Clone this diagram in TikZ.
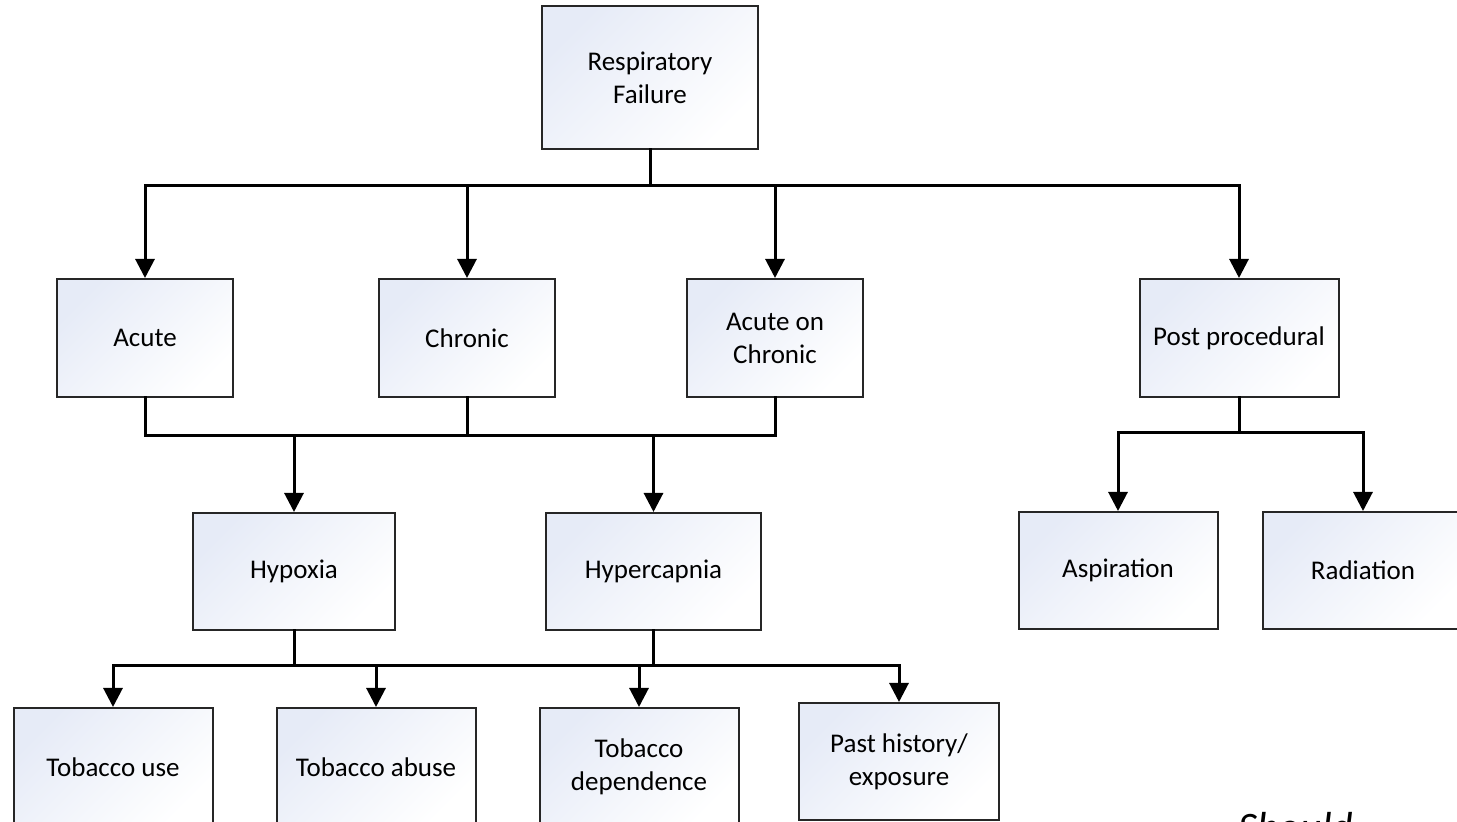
\documentclass[tikz,border=0pt]{standalone}
\usepackage{fontspec}
\setmainfont{Carlito}
\usetikzlibrary{arrows.meta}

\definecolor{boxtint}{RGB}{230,235,247}

\begin{document}
\begin{tikzpicture}[x=0.5pt,y=-0.5pt,
  box/.style={draw=black!85,line width=1pt,top color=boxtint,bottom color=white,
    shading angle=45,inner sep=0pt,align=center,minimum width=99.5pt,minimum height=59pt,
    font=\fontsize{13.5}{16.5}\selectfont},
  smallbox/.style={box,minimum width=88pt},
  rootbox/.style={box,minimum width=108pt,minimum height=71.5pt},
  conn/.style={line width=1.5pt,line cap=rect},
  arr/.style={line width=1.5pt,-{Triangle[length=9.5pt,width=9.5pt]}}]
\useasboundingbox (0,0) rectangle (1457,822);
\clip (0,0) rectangle (1457,822);
\fill[white] (0,0) rectangle (1457,822);

\node[rootbox] (root) at (650,77.5) {Respiratory\\Failure};

\node[smallbox] (acute) at (145,338) {Acute};
\node[smallbox] (chronic) at (467,338) {Chronic};
\node[smallbox] (aoc) at (775,338) {Acute on\\Chronic};
\node[box] (postp) at (1239,338) {Post procedural};

\node[box,minimum width=101pt,minimum height=58.5pt] (hypox) at (294,571.5) {Hypoxia};
\node[box,minimum width=107.5pt,minimum height=58.5pt] (hyperc) at (653.5,571.5) {Hypercapnia};

\node[box] (tobuse) at (113,767) {Tobacco use};
\node[box] (tobabuse) at (376,767) {Tobacco abuse};
\node[box] (tobdep) at (639,767) {Tobacco\\dependence};
\node[box,minimum width=100pt,minimum height=58.5pt] (past) at (899,761.5) {Past history/\\exposure};

\node[box,minimum height=58.5pt] (aspir) at (1118,570.5) {Aspiration};
\node[box,minimum width=100pt,minimum height=58.5pt] (radiat) at (1363,570.5) {Radiation};

\node[anchor=base west,inner sep=0pt,font=\fontsize{21}{25}\selectfont\itshape] (note) at (1238,842) {Should};

\coordinate (busA) at (0,186);
\coordinate (busB) at (0,436);
\coordinate (busC) at (0,666);
\coordinate (busD) at (0,433);

\draw[conn] (root.south) -- (root.south |- busA);
\draw[conn] (acute.north |- busA) -- (postp.north |- busA);
\foreach \n in {acute,chronic,aoc,postp}
  \draw[arr] (\n.north |- busA) -- (\n.north);

\foreach \n in {acute,chronic,aoc}
  \draw[conn] (\n.south) -- (\n.south |- busB);
\draw[conn] (acute.south |- busB) -- (aoc.south |- busB);
\foreach \n in {hypox,hyperc}
  \draw[arr] (\n.north |- busB) -- (\n.north);

\foreach \n in {hypox,hyperc}
  \draw[conn] (\n.south) -- (\n.south |- busC);
\draw[conn] (tobuse.north |- busC) -- (past.north |- busC);
\foreach \n in {tobuse,tobabuse,tobdep,past}
  \draw[arr] (\n.north |- busC) -- (\n.north);

\draw[conn] (postp.south) -- (postp.south |- busD);
\draw[conn] (aspir.north |- busD) -- (radiat.north |- busD);
\foreach \n in {aspir,radiat}
  \draw[arr] (\n.north |- busD) -- (\n.north);
\end{tikzpicture}
\end{document}
